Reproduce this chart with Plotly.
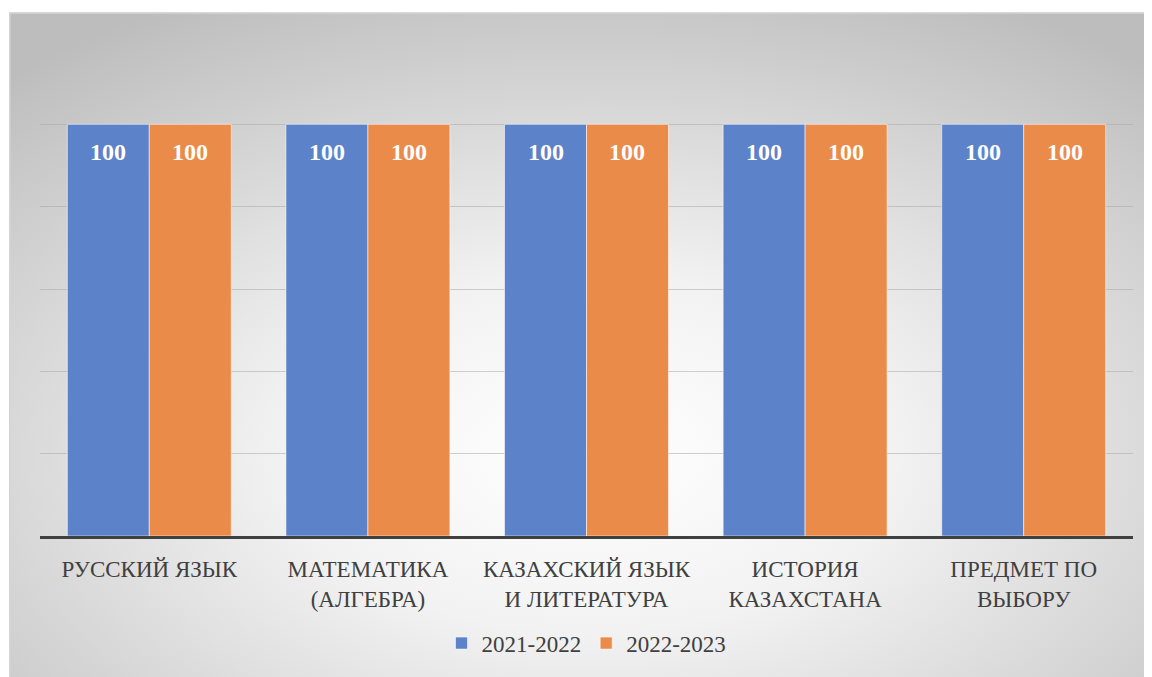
import base64
import plotly.graph_objects as go

categories = ["РУССКИЙ ЯЗЫК", "МАТЕМАТИКА (АЛГЕБРА)", "КАЗАХСКИЙ ЯЗЫК И ЛИТЕРАТУРА",
              "ИСТОРИЯ КАЗАХСТАНА", "ПРЕДМЕТ ПО ВЫБОРУ"]
tick_labels = ["РУССКИЙ ЯЗЫК", "МАТЕМАТИКА<br>(АЛГЕБРА)", "КАЗАХСКИЙ ЯЗЫК<br>И ЛИТЕРАТУРА",
               "ИСТОРИЯ<br>КАЗАХСТАНА", "ПРЕДМЕТ ПО<br>ВЫБОРУ"]
series_names = ["2021-2022", "2022-2023"]
values_2021 = [100, 100, 100, 100, 100]
values_2022 = [100, 100, 100, 100, 100]

OFF = 8  # page body margin
W, H = 1152 - OFF, 677 - OFF
ML, MR, MT, MB = 40 - OFF, 19, 42 - OFF, 137
PW, PH = W - ML - MR, H - MT - MB

colors = ["rgb(92,131,201)", "rgb(235,139,74)"]
font_family = "Liberation Serif"

fig = go.Figure()
for name, vals, col in zip(series_names, [values_2021, values_2022], colors):
    fig.add_trace(go.Bar(
        x=categories, y=vals, name=name,
        marker=dict(color=col, line=dict(color="rgba(255,255,255,0.55)", width=1)),
    ))

# data labels, anchored to bar tops
for i, vals in enumerate([values_2021, values_2022]):
    for j, v in enumerate(vals):
        fig.add_annotation(
            x=j + (-0.1875 if i == 0 else 0.1875), y=v, xref="x", yref="y",
            text=f"<b>{v}</b>", showarrow=False, yshift=-28,
            font=dict(family=font_family, size=24, color="white"),
        )

# radial gradient background covering the chart area
bx0, by0 = 9 - OFF, 12 - OFF
bw, bh = W - bx0 + 20, H - by0 + 20
svg = f'''<svg xmlns="http://www.w3.org/2000/svg" width="{bw}" height="{bh}" viewBox="0 0 {bw} {bh}" preserveAspectRatio="none">
<defs><radialGradient id="g" cx="0.5" cy="0.65" r="0.75" fx="0.5" fy="0.65">
<stop offset="0" stop-color="#ffffff"/><stop offset="0.35" stop-color="#f2f2f2"/>
<stop offset="1" stop-color="#bdbdbd"/></radialGradient></defs>
<rect x="0" y="0" width="{bw}" height="{bh}" fill="url(#g)"/>
<path d="M0.75 {bh} L0.75 0.75 L{bw} 0.75" fill="none" stroke="#d4d4d4" stroke-width="1.5"/>
</svg>'''
src = "data:image/svg+xml;base64," + base64.b64encode(svg.encode()).decode()
fig.add_layout_image(
    source=src, xref="paper", yref="paper",
    x=(bx0 - ML) / PW, y=1 + (MT - by0) / PH,
    sizex=bw / PW, sizey=bh / PH,
    xanchor="left", yanchor="top", sizing="stretch", layer="below",
)

fig.update_layout(
    width=W, height=H,
    margin=dict(l=ML, r=MR, t=MT, b=MB),
    paper_bgcolor="white", plot_bgcolor="rgba(0,0,0,0)",
    barmode="group", bargap=0.25, bargroupgap=0,
    font=dict(family=font_family, size=23, color="#404040"),
    showlegend=True,
    legend=dict(orientation="h", x=0.5, xanchor="center", y=-108 / PH, yanchor="middle",
                font=dict(family=font_family, size=23, color="#404040"),
                bgcolor="rgba(0,0,0,0)", itemwidth=30, traceorder="normal"),
)
fig.update_xaxes(
    tickmode="array", tickvals=categories, ticktext=tick_labels,
    showline=True, linecolor="#404040", linewidth=3,
    ticks="", ticklabelstandoff=10, showgrid=False,
    tickfont=dict(family=font_family, size=23, color="#404040"),
)
fig.update_yaxes(
    range=[0, 120], dtick=20, showticklabels=False, showgrid=True,
    gridcolor="rgba(170,170,170,0.55)", gridwidth=1, zeroline=False,
)

fig.write_html("out.html")
